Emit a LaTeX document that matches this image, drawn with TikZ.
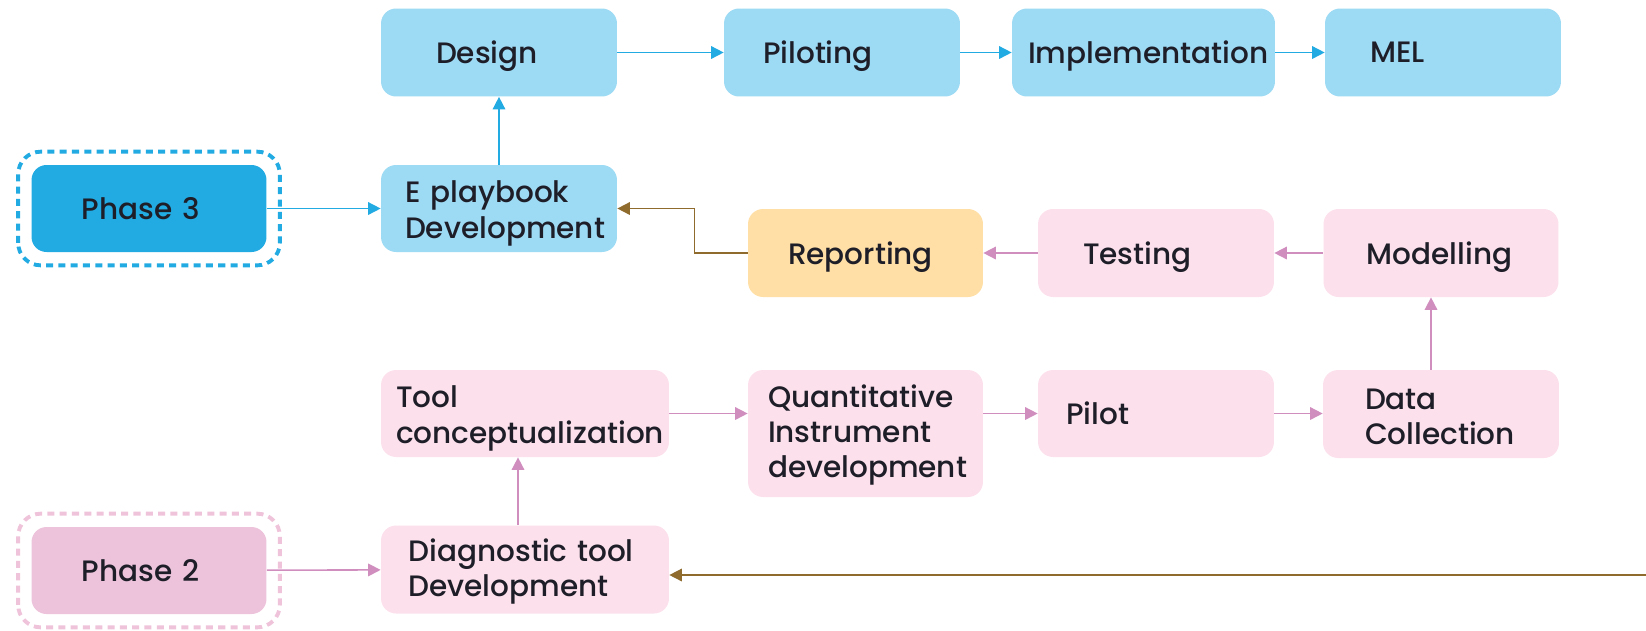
\documentclass[tikz,border=0pt]{standalone}
\usepackage{fontspec}
\setmainfont{Poppins}[UprightFont={* Medium}]
\usetikzlibrary{arrows.meta}
\definecolor{skyfill}{HTML}{9DDAF4}
\definecolor{skydark}{HTML}{22AAE2}
\definecolor{pinkfill}{HTML}{FCE1EC}
\definecolor{pinkdark}{HTML}{ECC3DB}
\definecolor{pinkline}{HTML}{D08EBE}
\definecolor{pinkdash}{HTML}{EFC3DA}
\definecolor{orangefill}{HTML}{FFDFA6}
\definecolor{brownline}{HTML}{8F6B2E}
\definecolor{inktext}{HTML}{1E1E28}
\begin{document}
\begin{tikzpicture}[x=0.02cm, y=-0.02cm,
        M/.style={rounded corners=.3cm, minimum height=1.76cm, align=left,
            inner ysep=0pt, text=inktext, font=\fontsize{16.8}{20}\selectfont},
        single/.style={text depth=0pt},
        blueM/.style={M, fill=skyfill},
        pinkM/.style={M, fill=pinkfill},
        blueA/.style={draw=skydark, line width=0.9pt, -{Triangle[length=0.25cm, width=0.25cm]}},
        pinkA/.style={draw=pinkline, line width=0.9pt, -{Triangle[length=0.25cm, width=0.25cm]}},
        brownA/.style={draw=brownline, line width=0.9pt, -{Triangle[length=0.25cm, width=0.25cm]}}
      ]
      \useasboundingbox (0,0) rectangle (1646,630);
      % top row
      \node [blueM, single, text width=2.52cm, inner xsep=1.1cm] (design) at (499,52.5) {Design};
      \node [blueM, single, text width=3.16cm, inner xsep=0.78cm] (piloting) at (842,52.5) {Piloting};
      \node [blueM, single, text width=4.62cm, inner xsep=0.32cm] (impl) at (1143.5,52.5) {Implementation};
      \node [blueM, single, text width=2.92cm, inner xsep=0.9cm] (mel) at (1443,52.5) {MEL};
      % phase 3
      \node [M, single, fill=skydark, minimum height=1.74cm, text width=2.7cm, inner xsep=1cm] (phase3) at (149,208.5) {Phase 3};
      \draw [skydark, line width=2.2pt, dash pattern=on 4pt off 3pt, rounded corners=.45cm]
        ([xshift=-.26cm, yshift=-.26cm]phase3.south west) rectangle ([xshift=.26cm, yshift=.26cm]phase3.north east);
      \node [blueM, minimum height=1.74cm, text height=18pt, text width=3.76cm, inner xsep=0.48cm] (eplay) at (499,208.5) {E playbook\\Development};
      % middle row
      \node [M, single, fill=orangefill, text width=3.1cm, inner xsep=0.8cm] (report) at (865.5,253) {Reporting};
      \node [pinkM, single, text width=2.92cm, inner xsep=0.9cm] (testing) at (1156,253) {Testing};
      \node [pinkM, single, text width=2.98cm, inner xsep=0.86cm] (model) at (1441,253) {Modelling};
      % lower row
      \node [pinkM, minimum height=1.74cm, text height=18pt, text width=5.16cm, inner xsep=0.3cm] (toolc) at (525,413.5) {Tool\\conceptualization};
      \node [pinkM, minimum height=2.54cm, text height=15pt, text width=3.9cm, inner xsep=0.4cm] (quant) at (865.5,433.5) {Quantitative\\Instrument\\development};
      \node [pinkM, single, minimum height=1.74cm, text width=3.6cm, inner xsep=0.56cm] (pilot) at (1156,413.5) {Pilot};
      \node [pinkM, text height=15pt, text width=3.04cm, inner xsep=0.84cm] (datac) at (1441,414) {Data\\Collection};
      % phase 2
      \node [M, single, fill=pinkdark, minimum height=1.74cm, text width=2.7cm, inner xsep=1cm] (phase2) at (149,570.5) {Phase 2};
      \draw [pinkdash, line width=2.2pt, dash pattern=on 4pt off 3pt, rounded corners=.45cm]
        ([xshift=-.26cm, yshift=-.26cm]phase2.south west) rectangle ([xshift=.26cm, yshift=.26cm]phase2.north east);
      \node [pinkM, text height=15pt, text width=4.66cm, inner xsep=0.55cm] (diag) at (525,569.5) {Diagnostic tool\\Development};
      \coordinate (feed) at (1646,575);
      % connectors
      \draw [blueA] (design) -- (piloting);
      \draw [blueA] (piloting) -- (impl);
      \draw [blueA] (impl) -- (mel);
      \draw [blueA] (eplay) -- (design);
      \draw [blueA] (phase3) -- (eplay);
      \draw [brownA] (report.west) -- ++(-53,0) |- (eplay.east);
      \draw [pinkA] (testing) -- (report);
      \draw [pinkA] (model) -- (testing);
      \draw [pinkA] ([xshift=-.2cm]datac.north) -- ([xshift=-.2cm]model.south);
      \draw [pinkA] (pilot.east) -- (pilot.east -| datac.west);
      \draw [pinkA] (quant.east |- pilot.west) -- (pilot.west);
      \draw [pinkA] (toolc.east) -- (toolc.east -| quant.west);
      \draw [pinkA] ([xshift=-.14cm]diag.north) -- ([xshift=-.14cm]toolc.south);
      \draw [pinkA] (phase2) -- (diag);
      \draw [brownA] (feed) -- (feed -| diag.east);
    \end{tikzpicture}
\end{document}
